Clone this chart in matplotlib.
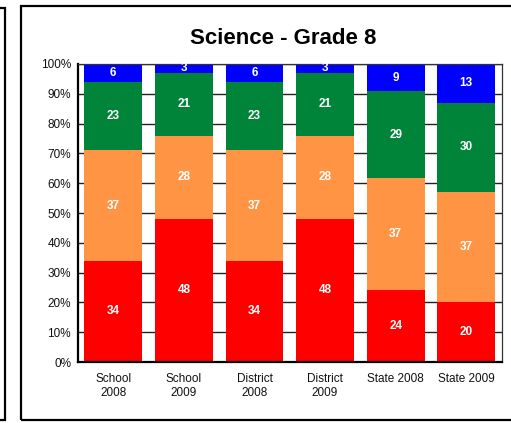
import matplotlib.pyplot as plt
from matplotlib.patches import Rectangle
import numpy as np

plt.rcParams['font.family'] = ['Liberation Sans', 'DejaVu Sans']

# data
groups = ['School\n2008', 'School\n2009', 'District\n2008', 'District\n2009', 'State 2008', 'State 2009']
red = [34, 48, 34, 48, 24, 20]
orange = [37, 28, 37, 28, 37, 37]
green = [23, 21, 23, 21, 29, 30]
blue = [6, 3, 6, 3, 9, 13]
yticks = [0, 10, 20, 30, 40, 50, 60, 70, 80, 90, 100]

series = [red, orange, green, blue]
colors = ['#FF0000', '#FF9444', '#00843A', '#0000FF']

W, H = 511, 423
fig = plt.figure(figsize=(W / 100, H / 100), dpi=100)
ax = fig.add_axes([78 / W, 1 - 362 / H, (501.5 - 78) / W, (362 - 64) / H])

x = np.arange(len(groups))
totals = np.sum(series, axis=0)
bottom = np.zeros(len(groups))
for vals, c in zip(series, colors):
    pct = np.array(vals) / totals * 100  # 100% stacked
    ax.bar(x, pct, 0.82, bottom=bottom, color=c, zorder=2)
    for xi, b, p, v in zip(x, bottom, pct, vals):
        ax.text(xi, b + p / 2, str(v), ha='center', va='center', color='white',
                fontsize=8.5, fontweight='bold', zorder=3)
    bottom += pct

ax.set_xlim(-0.5, len(groups) - 0.5)
ax.set_ylim(0, 100)
ax.set_yticks(yticks)
ax.set_yticklabels([f'{t}%' for t in yticks])
ax.set_xticks(x)
ax.set_xticklabels(groups, linespacing=1.2)
ax.tick_params(length=0, labelsize=8.5, colors='#111111', pad=5)
ax.tick_params(axis='x', pad=8)
ax.yaxis.grid(True, color='#222222', linewidth=1)
ax.set_axisbelow(True)
for s in ['left', 'bottom']:
    ax.spines[s].set_linewidth(1.6)
    ax.spines[s].set_color('black')
for s in ['top', 'right']:
    ax.spines[s].set_linewidth(0.9)
    ax.spines[s].set_color('#333333')

fig.text(283 / W, 1 - 38 / H, 'Science - Grade 8', ha='center', va='center',
         fontsize=16, fontweight='bold')

# panel frames
fig.add_artist(Rectangle((21 / W, 1 - 420 / H), 600 / W, 414 / H, transform=fig.transFigure,
                         fill=False, edgecolor='black', linewidth=1.6))
fig.add_artist(Rectangle((-20 / W, 1 - 420 / H), 25 / W, 412 / H, transform=fig.transFigure,
                         fill=False, edgecolor='black', linewidth=1.6))

fig.savefig('out.png', dpi=100)
